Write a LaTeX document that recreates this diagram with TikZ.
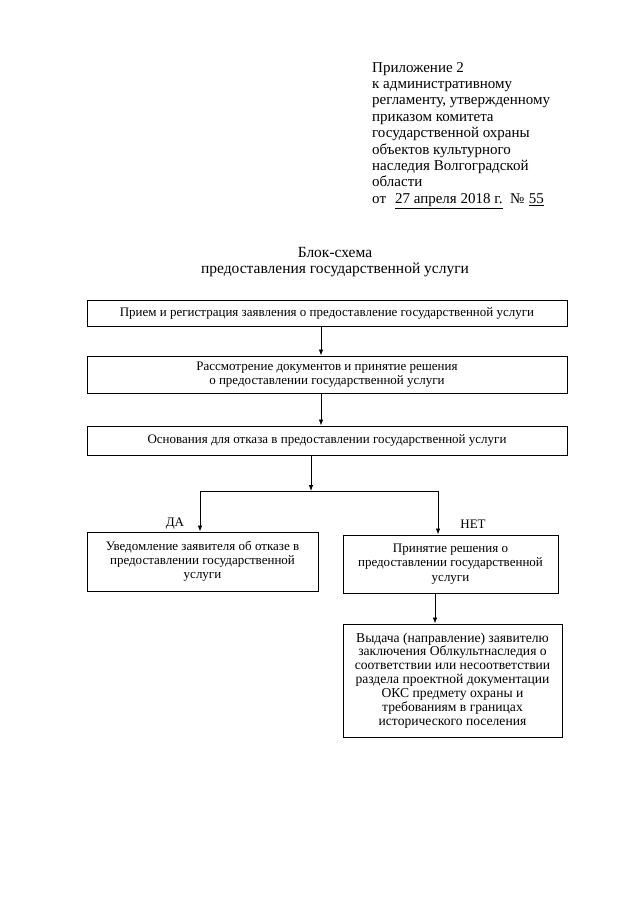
\documentclass[tikz,border=0pt]{standalone}
\usepackage{fontspec}
\setmainfont{Liberation Serif}
\usetikzlibrary{arrows.meta}
\begin{document}
\begin{tikzpicture}[x=1pt,y=-1pt,
  box/.style={draw,line width=0.9pt,rectangle,inner sep=0pt,align=center,
    font=\fontsize{13}{14.2}\selectfont},
  arr/.style={line width=0.8pt,-{Latex[length=6pt,width=4.5pt]}},
  conn/.style={line width=0.8pt},
  lbl/.style={inner sep=0pt,font=\fontsize{13}{14}\selectfont}]
\useasboundingbox[fill=white] (0,0) rectangle (640,905);

\node[inner sep=0pt,anchor=north west,align=left,
  font=\fontsize{15}{16.4}\selectfont] (hdr) at (372,62)
  {Приложение 2\\
   к административному\\
   регламенту, утвержденному\\
   приказом комитета\\
   государственной охраны\\
   объектов культурного\\
   наследия Волгоградской\\
   области\\
   от\hspace{0.6em}\underline{27 апреля 2018 г.}\hspace{0.5em}№\hspace{0.3em}\underline{55}};

\node[inner sep=0pt,align=center,font=\fontsize{15.5}{16}\selectfont] (title) at (335,262)
  {Блок-схема\\предоставления государственной услуги};

\node[box,minimum width=480pt,minimum height=26pt] (b1) at (327,313)
  {Прием и регистрация заявления о предоставление государственной услуги};
\node[box,minimum width=480pt,minimum height=37pt] (b2) at (327,374.5)
  {Рассмотрение документов и принятие решения\\о предоставлении государственной услуги};
\node[box,minimum width=480pt,minimum height=29pt] (b3) at (327,440.5)
  {Основания для отказа в предоставлении государственной услуги};
\node[box,minimum width=231pt,minimum height=59pt] (bl) at (202.5,561.5)
  {Уведомление заявителя об отказе в\\предоставлении государственной\\услуги};
\node[box,minimum width=215pt,minimum height=58pt] (br) at (450.5,564)
  {Принятие решения о\\предоставлении государственной\\услуги};
\node[box,minimum width=219pt,minimum height=113pt,
  font=\fontsize{13.6}{13.9}\selectfont] (b4) at (452.5,680.5)
  {Выдача (направление) заявителю\\заключения Облкультнаследия о\\соответствии или несоответствии\\раздела проектной документации\\ОКС предмету охраны и\\требованиям в границах\\исторического поселения};

\coordinate (j) at (311,491);
\coordinate (jl) at (200,491);
\coordinate (jr) at (438,491);
\coordinate (c1) at (321,0);
\coordinate (c4) at (435,0);

\draw[arr] (b1.south -| c1) -- (b2.north -| c1);
\draw[arr] (b2.south -| c1) -- (b3.north -| c1);
\draw[arr] (b3.south -| j) -- (j);
\draw[conn] (jl) -- (jr);
\draw[arr] (jl) -- (bl.north -| jl);
\draw[arr] (jr) -- (br.north -| jr);
\draw[arr] (br.south -| c4) -- (b4.north -| c4);

\node[lbl] (da) at (175,524) {ДА};
\node[lbl] (net) at (473,524) {НЕТ};
\end{tikzpicture}
\end{document}
